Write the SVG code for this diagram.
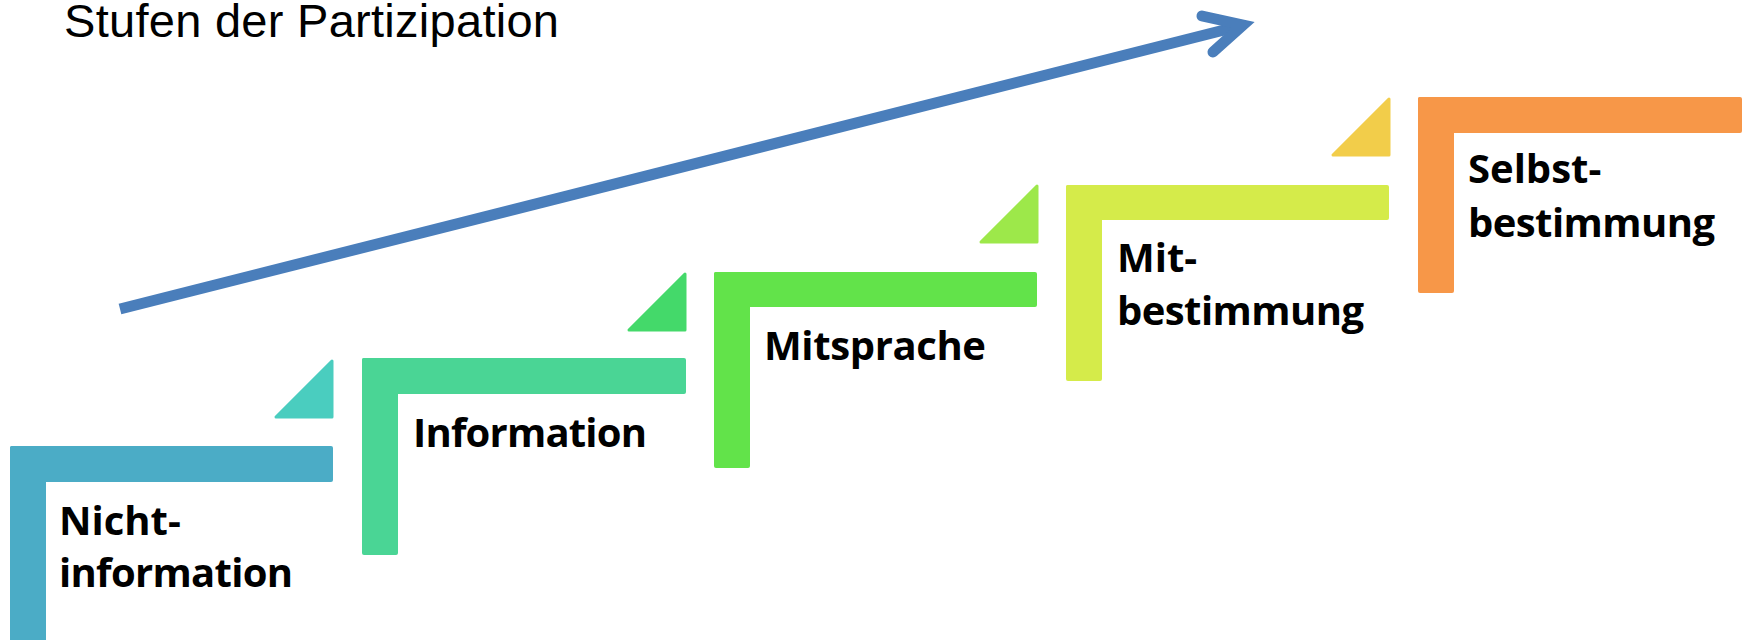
<svg xmlns="http://www.w3.org/2000/svg" width="1748" height="640" viewBox="0 0 1748 640">
  <style>
    .lbl { font-family: "Open Sans", "Noto Sans", sans-serif; font-weight: bold; font-size: 40px; fill: #000; }
    .title { font-family: "Liberation Sans", Arial, sans-serif; font-size: 47px; fill: #000; }
    .tri { stroke-width: 3; stroke-linejoin: round; }
  </style>
  <rect width="1748" height="640" fill="#fff"/>

  <text class="title" x="64" y="37" textLength="495">Stufen der Partizipation</text>

  <!-- rising arrow -->
  <g id="connectors" fill="none" stroke="#4A7EBB" stroke-width="11">
    <line x1="120" y1="309" x2="1240" y2="26" stroke-linecap="butt"/>
    <polyline points="1202,16 1243,25 1213,52" stroke-linecap="round" stroke-linejoin="miter"/>
  </g>

  <!-- step 1 -->
  <g id="step1">
    <rect x="10" y="446" width="323" height="36" rx="2" fill="#4BACC6"/>
    <rect x="10" y="446" width="36" height="200" rx="2" fill="#4BACC6"/>
    <path class="tri" d="M276,417 L332,361 L332,417 Z" fill="#4ACDBF" stroke="#4ACDBF"/>
    <text class="lbl" x="59" y="535">Nicht-</text>
    <text class="lbl" x="59" y="587" textLength="234">information</text>
  </g>

  <!-- step 2 -->
  <g id="step2">
    <rect x="362" y="358" width="324" height="36" rx="2" fill="#4AD595"/>
    <rect x="362" y="358" width="36" height="197" rx="2" fill="#4AD595"/>
    <path class="tri" d="M629,330 L685,274 L685,330 Z" fill="#44D96A" stroke="#44D96A"/>
    <text class="lbl" x="413" y="447" textLength="234">Information</text>
  </g>

  <!-- step 3 -->
  <g id="step3">
    <rect x="714" y="272" width="323" height="35" rx="2" fill="#62E34A"/>
    <rect x="714" y="272" width="36" height="196" rx="2" fill="#62E34A"/>
    <path class="tri" d="M981,242 L1037,186 L1037,242 Z" fill="#9DE84A" stroke="#9DE84A"/>
    <text class="lbl" x="764" y="360" textLength="222">Mitsprache</text>
  </g>

  <!-- step 4 -->
  <g id="step4">
    <rect x="1066" y="185" width="323" height="35" rx="2" fill="#D5EB4A"/>
    <rect x="1066" y="185" width="36" height="196" rx="2" fill="#D5EB4A"/>
    <path class="tri" d="M1333,155 L1389,99 L1389,155 Z" fill="#F2CD4A" stroke="#F2CD4A"/>
    <text class="lbl" x="1117" y="272">Mit-</text>
    <text class="lbl" x="1117" y="325" textLength="247">bestimmung</text>
  </g>

  <!-- step 5 -->
  <g id="step5">
    <rect x="1418" y="97" width="324" height="36" rx="2" fill="#F79748"/>
    <rect x="1418" y="97" width="36" height="196" rx="2" fill="#F79748"/>
    <text class="lbl" x="1468" y="183">Selbst-</text>
    <text class="lbl" x="1468" y="237" textLength="247">bestimmung</text>
  </g>
</svg>
